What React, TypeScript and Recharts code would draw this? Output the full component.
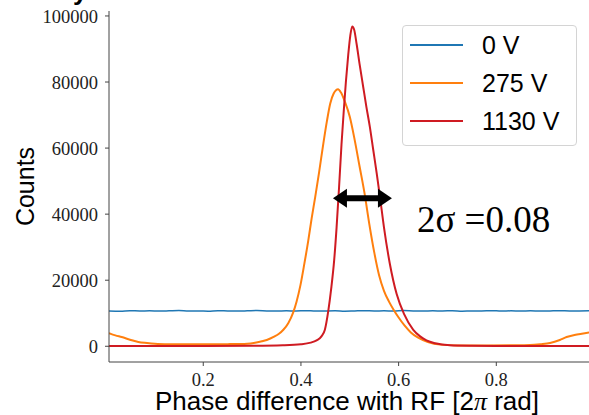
import { LineChart, Line, XAxis, YAxis, ReferenceLine, ReferenceDot, Legend, Label, Customized } from "recharts";

// 0 V: flat background
const bluePhase = [
  0.007, 0.03, 0.05, 0.07, 0.09, 0.11, 0.13, 0.15, 0.17, 0.19,
  0.21, 0.23, 0.25, 0.27, 0.29, 0.31, 0.33, 0.35, 0.37, 0.39,
  0.41, 0.43, 0.45, 0.47, 0.49, 0.51, 0.53, 0.55, 0.57, 0.59,
  0.61, 0.63, 0.65, 0.67, 0.69, 0.71, 0.73, 0.75, 0.77, 0.79,
  0.81, 0.83, 0.85, 0.87, 0.89, 0.91, 0.93, 0.95, 0.97, 0.99,
];
const blueCounts = [
  10700, 10620, 10780, 10690, 10740, 10650, 10720, 10800, 10680, 10710,
  10640, 10760, 10700, 10670, 10730, 10810, 10690, 10650, 10720, 10700,
  10780, 10660, 10710, 10740, 10630, 10700, 10760, 10690, 10720, 10650,
  10800, 10700, 10670, 10730, 10690, 10760, 10640, 10710, 10700, 10780,
  10660, 10720, 10690, 10740, 10650, 10710, 10770, 10690, 10700, 10720,
];

// 275 V
const orangePhase = [
  0.007, 0.02, 0.033, 0.05, 0.067, 0.085, 0.101, 0.13, 0.17, 0.21,
  0.25, 0.271, 0.29, 0.306, 0.32, 0.33, 0.345, 0.355, 0.364, 0.374,
  0.384, 0.391, 0.399, 0.407, 0.415, 0.422, 0.429, 0.437, 0.446, 0.453,
  0.46, 0.467, 0.476, 0.482, 0.49, 0.5, 0.51, 0.52, 0.53, 0.54,
  0.55, 0.56, 0.57, 0.58, 0.59, 0.6, 0.612, 0.625, 0.64, 0.66,
  0.685, 0.72, 0.78, 0.84, 0.869, 0.89, 0.91, 0.93, 0.944, 0.96,
  0.975, 0.99,
];
const orangeCounts = [
  4000, 3300, 2800, 2000, 1300, 1000, 800, 650, 600, 600,
  650, 700, 800, 1100, 1500, 1900, 2900, 3800, 5000, 7000,
  10200, 13500, 18500, 25000, 32000, 38800, 45000, 52500, 61500, 68000,
  73500, 76500, 77800, 76800, 74000, 69500, 62500, 54500, 46500, 37000,
  28500, 21500, 16800, 13600, 11000, 8700, 6300, 4200, 2600, 1300,
  500, 260, 250, 300, 400, 650, 1000, 1900, 2800, 3400,
  3800, 4150,
];

// 1130 V
const redPhase = [
  0.007, 0.1, 0.2, 0.3, 0.363, 0.4, 0.42, 0.432, 0.442, 0.449,
  0.456, 0.462, 0.468, 0.473, 0.478, 0.483, 0.488, 0.492, 0.497, 0.501,
  0.505, 0.509, 0.514, 0.52, 0.5275, 0.534, 0.541, 0.548, 0.555, 0.562,
  0.57, 0.582, 0.596, 0.611, 0.63, 0.644, 0.657, 0.675, 0.705, 0.75,
  0.8, 0.9, 0.99,
];
const redCounts = [
  100, 100, 100, 150, 300, 600, 1100, 1800, 3000, 5000,
  10700, 17500, 26000, 36000, 48000, 61000, 72000, 80000, 88500, 94000,
  96800, 95800, 91500, 85500, 78500, 72500, 66500, 59500, 52500, 45000,
  36000, 25000, 15800, 9800, 5000, 3000, 1800, 900, 300, 150,
  100, 100, 100,
];

const xTicks = [0.2, 0.4, 0.6, 0.8];
const yTicks = [0, 20000, 40000, 60000, 80000, 100000];

// width annotation
const arrowPhase = [0.4655, 0.5863];
const arrowCounts = 44850;
const notePhase = 0.6375;
const noteCounts = 34640;

const toPoints = (phase: number[], counts: number[]) =>
  phase.map((p, i) => ({ phase: p, counts: counts[i] }));

const series = [
  { name: "0 V", color: "#1f77b4", width: 1.5, data: toPoints(bluePhase, blueCounts) },
  { name: "275 V", color: "#ff7f0e", width: 2, data: toPoints(orangePhase, orangeCounts) },
  { name: "1130 V", color: "#cf1b22", width: 2, data: toPoints(redPhase, redCounts) },
];

const SANS = "'Liberation Sans', Arial, sans-serif";
const SERIF = "'Liberation Serif', 'Times New Roman', serif";
const tickStyle = { fontFamily: SERIF, fontSize: 18.5, fill: "#222" };

function DoubleArrow(props: any) {
  const { x1, y1, x2, y2 } = props;
  const head = 14;
  const half = 9.5;
  return (
    <g>
      <line x1={x1 + head - 1} y1={y1} x2={x2 - head + 1} y2={y2} stroke="#000" strokeWidth={6} />
      <polygon points={`${x1},${y1} ${x1 + head},${y1 - half} ${x1 + head},${y1 + half}`} fill="#000" />
      <polygon points={`${x2},${y2} ${x2 - head},${y2 - half} ${x2 - head},${y2 + half}`} fill="#000" />
    </g>
  );
}

// legend keeps the plotting order, not the alphabetical one
function LegendBox({ payload }: any) {
  const items = series.map((s) => (payload || []).find((e: any) => e.value === s.name) || { value: s.name, color: s.color });
  return (
    <div
      style={{
        border: "1px solid #d4d4d4",
        borderRadius: 4,
        background: "rgba(255,255,255,0.8)",
        width: 173,
        height: 119,
      }}
    >
      {items.map((e: any) => (
        <div key={e.value} style={{ display: "flex", alignItems: "center", height: 38 }}>
          <svg width={53} height={4} style={{ marginLeft: 7 }}>
            <line x1={0} y1={2} x2={53} y2={2} stroke={e.color} strokeWidth={2} />
          </svg>
          <span style={{ marginLeft: 19, fontFamily: SANS, fontSize: 25, lineHeight: 1, color: "#000" }}>
            {e.value}
          </span>
        </div>
      ))}
    </div>
  );
}

export default function App() {
  return (
    <div style={{ position: "absolute", left: 0, top: 0, background: "#fff" }}>
      <LineChart width={589} height={415} margin={{ top: 11, right: 0, left: 0, bottom: 0 }}>
        <XAxis
          dataKey="phase"
          type="number"
          domain={[0.007, 0.9898]}
          allowDataOverflow
          ticks={xTicks}
          tickFormatter={(v: number) => v.toFixed(1)}
          tick={tickStyle}
          tickSize={4}
          tickMargin={7}
          height={53}
          stroke="#444"
        >
          <Label
            content={(p: any) => {
              const vb = p.viewBox;
              return (
                <text x={vb.x + vb.width / 2 - 2} y={vb.y + 48} textAnchor="middle" fontFamily={SANS} fontSize={26} fill="#000">
                  Phase difference with RF [2<tspan fontFamily={SERIF} fontStyle="italic">π</tspan> rad]
                </text>
              );
            }}
          />
        </XAxis>
        <XAxis xAxisId="top" orientation="top" type="number" domain={[0.007, 0.9898]} tick={false} tickLine={false} height={0} stroke="#444" />
        <YAxis
          type="number"
          domain={[-4760, 101500]}
          allowDataOverflow
          ticks={yTicks}
          tick={tickStyle}
          tickSize={4}
          tickMargin={7}
          width={109}
          stroke="#444"
        >
          <Label
            content={(p: any) => {
              const vb = p.viewBox;
              const cx = 25;
              const cy = vb.y + vb.height / 2;
              return (
                <text x={cx} y={cy} transform={`rotate(-90, ${cx}, ${cy})`} textAnchor="middle" dominantBaseline="central" fontFamily={SANS} fontSize={25} fill="#000">
                  Counts
                </text>
              );
            }}
          />
        </YAxis>
        {series.map((s) => (
          <Line
            key={s.name}
            data={s.data}
            dataKey="counts"
            name={s.name}
            type="monotone"
            stroke={s.color}
            strokeWidth={s.width}
            dot={false}
            isAnimationActive={false}
          />
        ))}
        <ReferenceLine
          segment={[
            { x: arrowPhase[0], y: arrowCounts },
            { x: arrowPhase[1], y: arrowCounts },
          ]}
          shape={DoubleArrow}
        />
        <ReferenceDot
          x={notePhase}
          y={noteCounts}
          r={0}
          shape={(p: any) => (
            <text x={p.cx} y={p.cy} fontFamily={SERIF} fontSize={37} fill="#000">
              2σ =0.08
            </text>
          )}
        />
        <Legend
          layout="vertical"
          align="center"
          verticalAlign="middle"
          content={<LegendBox />}
          wrapperStyle={{ left: 402, top: 25, width: 175, height: 121 }}
        />
        <Customized
          component={
            <text x={73} y={0} fontFamily={SANS} fontWeight="bold" fontSize={26} fill="#000">
              y
            </text>
          }
        />
      </LineChart>
    </div>
  );
}
